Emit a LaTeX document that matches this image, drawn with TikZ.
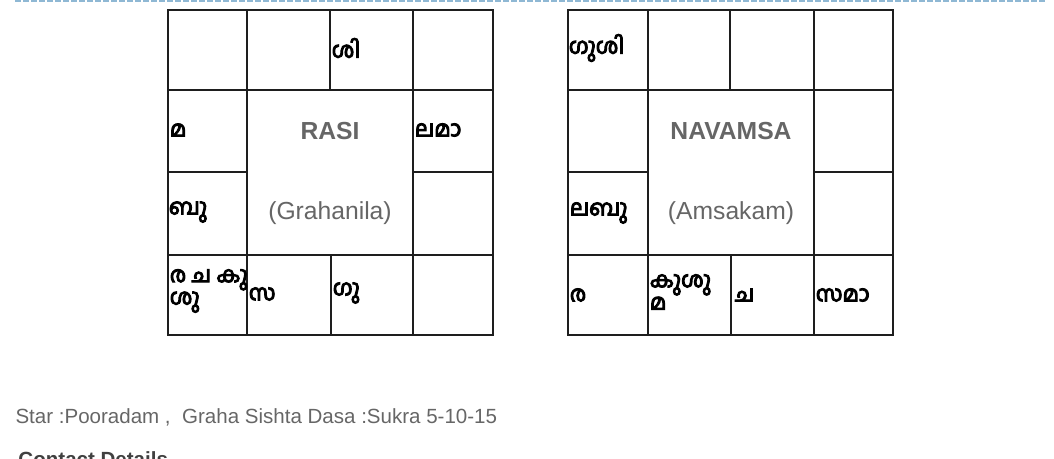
\documentclass[tikz,border=0pt]{standalone}
\usepackage{fontspec}
\setmainfont{Liberation Sans}
\newfontfamily\malfont[Script=Malayalam,FakeBold=4.5]{Hind Kochi}
\definecolor{gridline}{HTML}{1E1E1E}
\definecolor{titlegray}{HTML}{666666}
\definecolor{dotblue}{HTML}{8FB8D4}
\tikzset{every picture/.style={line width=0.75pt}}
\tikzset{
  grahanode/.style={anchor=west,inner sep=1pt,font=\malfont\fontsize{16.5}{14}\selectfont,text=black,align=left},
  titlenode/.style={font=\bfseries\fontsize{18.5}{20}\selectfont,text=titlegray},
  subnode/.style={font=\fontsize{18.5}{20}\selectfont,text=titlegray},
  infonode/.style={anchor=west,inner sep=0pt,font=\fontsize{15.4}{18}\selectfont,text=titlegray}
}

\begin{document}
\begin{tikzpicture}[x=0.75pt,y=0.75pt,yscale=-1,xscale=1]
    %set diagram size 1054 x 459
    \useasboundingbox (0,0) rectangle (1054,459);
    %Dotted Line
    \draw[dotblue,line width=1.5pt,dash pattern=on 4.5pt off 1.5pt] (15,0.6) -- (1046,0.6) ;
    %Shape: Rasi Grid
    \draw[gridline,line width=1.5pt] (168,10) rectangle (493,335) ;
    \draw[gridline,line width=1.5pt] (168,90) -- (493,90) ;
    \draw[gridline,line width=1.5pt] (168,255) -- (493,255) ;
    \draw[gridline,line width=1.5pt] (168,172) -- (247,172) ;
    \draw[gridline,line width=1.5pt] (413,172) -- (493,172) ;
    \draw[gridline,line width=1.5pt] (247,10) -- (247,335) ;
    \draw[gridline,line width=1.5pt] (413,10) -- (413,335) ;
    \draw[gridline,line width=1.5pt] (330,10) -- (330,90) ;
    \draw[gridline,line width=1.5pt] (331,255) -- (331,335) ;
    %Shape: Navamsa Grid
    \draw[gridline,line width=1.5pt] (568,10) rectangle (893,335) ;
    \draw[gridline,line width=1.5pt] (568,90) -- (893,90) ;
    \draw[gridline,line width=1.5pt] (568,255) -- (893,255) ;
    \draw[gridline,line width=1.5pt] (568,172) -- (648,172) ;
    \draw[gridline,line width=1.5pt] (814,172) -- (893,172) ;
    \draw[gridline,line width=1.5pt] (648,10) -- (648,335) ;
    \draw[gridline,line width=1.5pt] (814,10) -- (814,335) ;
    \draw[gridline,line width=1.5pt] (730,10) -- (730,90) ;
    \draw[gridline,line width=1.5pt] (731,255) -- (731,335) ;
    %Text Nodes Rasi
    \node[titlenode] (rasititle) at (330,131) {RASI};
    \node[subnode] (rasisub) at (330,213) {(Grahanila)};
    \node[grahanode] (rasisani) at (330,48) {ശി};
    \node[grahanode] (rasimanda) at (168,130) {മ};
    \node[grahanode] (rasilagna) at (413,130) {ലമാ};
    \node[grahanode] (rasibudha) at (167,212) {ബു};
    \node[grahanode] (rasiravi) at (168,291) {ര ച കു\\ശു};
    \node[grahanode] (rasisarpa) at (247,294) {സ};
    \node[grahanode] (rasiguru) at (331,293) {ഗു};
    %Text Nodes Navamsa
    \node[titlenode] (navtitle) at (731,131) {NAVAMSA};
    \node[subnode] (navsub) at (731,213) {(Amsakam)};
    \node[grahanode] (navguru) at (567,48) {ഗുശി};
    \node[grahanode] (navlagna) at (568,213) {ലബു};
    \node[grahanode] (navravi) at (568,295) {ര};
    \node[grahanode] (navkuja) at (648,292) {കുശു\\മ};
    \node[grahanode] (navchandra) at (733,295) {ച};
    \node[grahanode] (navsarpa) at (814,295) {സമാ};
    %Text Nodes Info
    \node[infonode] (starinfo) at (15,417) {Star :Pooradam ,\ \ Graha Sishta Dasa :Sukra 5-10-15};
    \node[infonode,font=\bfseries\fontsize{15.4}{18}\selectfont,text=black!75] (contact) at (18,459) {Contact Details};
\end{tikzpicture}
\end{document}
